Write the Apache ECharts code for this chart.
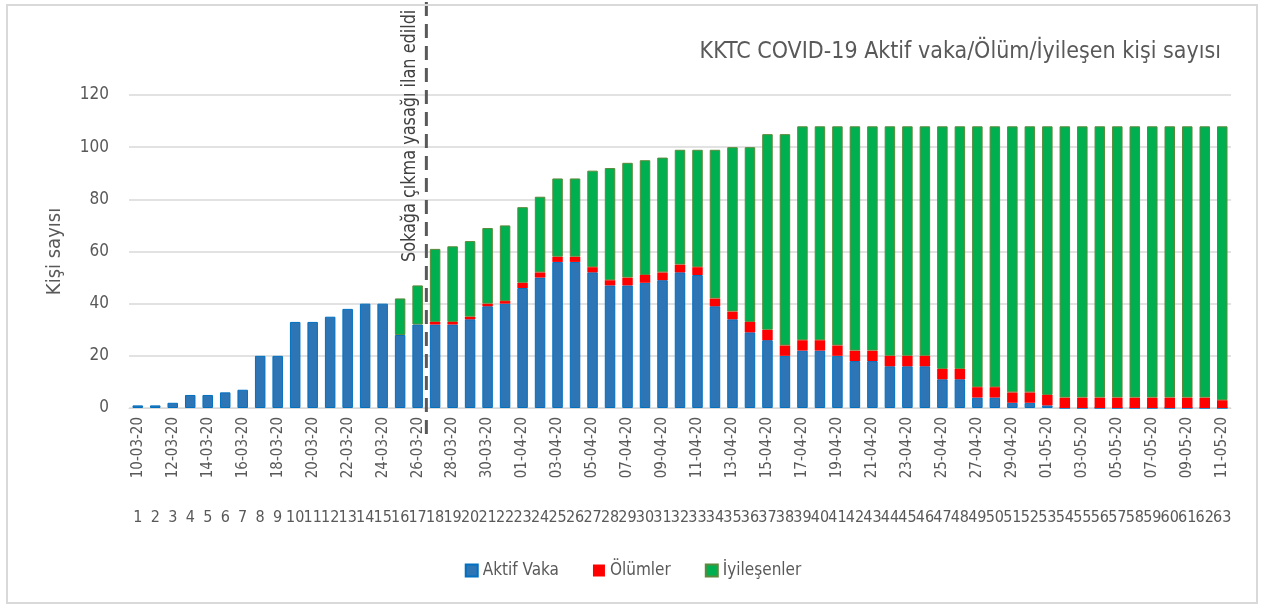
<!DOCTYPE html>
<html>
<head>
<meta charset="utf-8">
<script src="https://cdn.jsdelivr.net/npm/echarts@6/dist/echarts.min.js"></script>
<style>
  html, body { margin: 0; padding: 0; background: #fff; }
  #main { width: 1266px; height: 610px; }
  #frame { position: absolute; left: 6px; top: 4px; width: 1252px; height: 600px; border: 2px solid #d9d9d9; box-sizing: border-box; pointer-events: none; }
</style>
</head>
<body>
<div id="main"></div>
<div id="frame"></div>
<script>
  // tarih etiketleri
  const dates = [
    '10-03-20','11-03-20','12-03-20','13-03-20','14-03-20','15-03-20','16-03-20','17-03-20','18-03-20','19-03-20',
    '20-03-20','21-03-20','22-03-20','23-03-20','24-03-20','25-03-20','26-03-20','27-03-20','28-03-20','29-03-20',
    '30-03-20','31-03-20','01-04-20','02-04-20','03-04-20','04-04-20','05-04-20','06-04-20','07-04-20','08-04-20',
    '09-04-20','10-04-20','11-04-20','12-04-20','13-04-20','14-04-20','15-04-20','16-04-20','17-04-20','18-04-20',
    '19-04-20','20-04-20','21-04-20','22-04-20','23-04-20','24-04-20','25-04-20','26-04-20','27-04-20','28-04-20',
    '29-04-20','30-04-20','01-05-20','02-05-20','03-05-20','04-05-20','05-05-20','06-05-20','07-05-20','08-05-20',
    '09-05-20','10-05-20','11-05-20'
  ]
  // gün numaraları
  const days = dates.map((d, i) => String(i + 1))

  const aktifVaka = [
    1, 1, 2, 5, 5, 6, 7, 20, 20, 33,
    33, 35, 38, 40, 40, 28, 32, 32, 32, 34,
    39, 40, 46, 50, 56, 56, 52, 47, 47, 48,
    49, 52, 51, 39, 34, 29, 26, 20, 22, 22,
    20, 18, 18, 16, 16, 16, 11, 11, 4, 4,
    2, 2, 1, 0, 0, 0, 0, 0, 0, 0,
    0, 0, 0
  ]
  const olumler = [
    0, 0, 0, 0, 0, 0, 0, 0, 0, 0,
    0, 0, 0, 0, 0, 0, 0, 1, 1, 1,
    1, 1, 2, 2, 2, 2, 2, 2, 3, 3,
    3, 3, 3, 3, 3, 4, 4, 4, 4, 4,
    4, 4, 4, 4, 4, 4, 4, 4, 4, 4,
    4, 4, 4, 4, 4, 4, 4, 4, 4, 4,
    4, 4, 3
  ]
  const iyilesenler = [
    0, 0, 0, 0, 0, 0, 0, 0, 0, 0,
    0, 0, 0, 0, 0, 14, 15, 28, 29, 29,
    29, 29, 29, 29, 30, 30, 37, 43, 44, 44,
    44, 44, 45, 57, 63, 67, 75, 81, 82, 82,
    84, 86, 86, 88, 88, 88, 93, 93, 100, 100,
    102, 102, 103, 104, 104, 104, 104, 104, 104, 104,
    104, 104, 105
  ]

  // sıfır değerler çizilmesin (kenarlık görünmesin)
  const bosOlarak = arr => arr.map(v => (v === 0 ? '-' : v))

  const FONT = '"Liberation Sans Narrow", "DejaVu Sans Condensed", "Roboto", sans-serif'
  const GRAY = '#595959'

  const chart = echarts.init(document.getElementById('main'))
  chart.setOption({
    animation: false,
    textStyle: { fontFamily: FONT },
    title: {
      text: 'KKTC COVID-19 Aktif vaka/Ölüm/İyileşen kişi sayısı',
      right: 40,
      top: 36,
      textStyle: { fontFamily: FONT, fontSize: 23, fontWeight: 'normal', color: GRAY }
    },
    legend: {
      bottom: 26,
      left: 'center',
      icon: 'rect',
      itemWidth: 12,
      itemHeight: 12,
      itemGap: 34,
      textStyle: { fontFamily: FONT, fontSize: 17, color: GRAY },
      data: ['Aktif Vaka', 'Ölümler', 'İyileşenler']
    },
    grid: { left: 129, right: 35, top: 95, bottom: 202 },
    xAxis: [
      {
        type: 'category',
        data: dates,
        axisLine: { lineStyle: { color: '#d9d9d9', width: 1 } },
        axisTick: { interval: 0, length: 128, lineStyle: { color: '#d9d9d9' } },
        axisLabel: { interval: 1, rotate: 90, margin: 9, fontSize: 15, color: GRAY, fontFamily: FONT }
      },
      {
        type: 'category',
        data: days,
        position: 'bottom',
        offset: 100,
        axisLine: { show: false },
        axisTick: { show: false },
        axisLabel: { interval: 0, margin: 2, fontSize: 16, color: GRAY, fontFamily: FONT }
      }
    ],
    yAxis: {
      type: 'value',
      min: 0,
      max: 120,
      interval: 20,
      name: 'Kişi sayısı',
      nameLocation: 'middle',
      nameGap: 64,
      nameTextStyle: { fontFamily: FONT, fontSize: 20, color: GRAY },
      axisLine: { show: false },
      axisTick: { show: false },
      axisLabel: { fontSize: 17, color: GRAY, margin: 20, fontFamily: FONT },
      splitLine: { lineStyle: { color: '#d9d9d9', width: 1.5 } }
    },
    series: [
      {
        name: 'Aktif Vaka',
        type: 'bar',
        stack: 'toplam',
        barWidth: '60%',
        itemStyle: { color: '#2e75b6', borderColor: '#0070c0', borderWidth: 1 },
        data: aktifVaka
      },
      {
        name: 'Ölümler',
        type: 'bar',
        stack: 'toplam',
        itemStyle: { color: '#ff0000' },
        data: bosOlarak(olumler)
      },
      {
        name: 'İyileşenler',
        type: 'bar',
        stack: 'toplam',
        itemStyle: { color: '#00b050', borderColor: '#5b8a3c', borderWidth: 1 },
        data: bosOlarak(iyilesenler)
      }
    ]
  })

  // sokağa çıkma yasağı çizgisi (17. ve 18. gün arası)
  const x1 = chart.convertToPixel({ xAxisIndex: 0 }, dates[16])
  const x2 = chart.convertToPixel({ xAxisIndex: 0 }, dates[17])
  const lineX = (x1 + x2) / 2
  chart.setOption({
    graphic: [
      {
        type: 'line',
        shape: { x1: lineX, y1: 2, x2: lineX, y2: 438 },
        style: { stroke: GRAY, lineWidth: 3, lineDash: [14, 8] },
        z: 100
      },
      {
        type: 'text',
        x: lineX - 16,
        y: 262,
        rotation: Math.PI / 2,
        scaleX: 0.94,
        style: {
          text: 'Sokağa çıkma yasağı ilan edildi',
          font: '19px ' + FONT,
          fill: '#404040',
          align: 'left',
          verticalAlign: 'middle'
        },
        z: 100
      }
    ]
  })
</script>
</body>
</html>
